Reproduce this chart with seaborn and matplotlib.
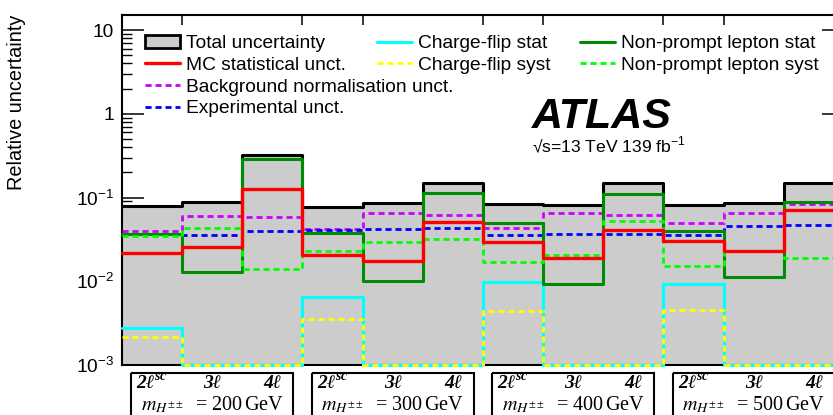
import numpy as np
import pandas as pd
import matplotlib
matplotlib.use("Agg")
import matplotlib.pyplot as plt
import matplotlib.transforms as mtransforms
from matplotlib.patches import Patch, Rectangle
from matplotlib.lines import Line2D
import seaborn as sns

# --- data (relative uncertainty per bin) ---
masses = [200, 300, 400, 500]
channels = ["2ℓ", "3ℓ", "4ℓ"]

total = [0.0787, 0.0879, 0.321, 0.0774, 0.0855, 0.150, 0.0841, 0.0809, 0.149, 0.0825, 0.0871, 0.150]
mc_stat = [0.0215, 0.0257, 0.125, 0.0206, 0.0175, 0.0506, 0.0295, 0.0188, 0.0414, 0.0306, 0.0230, 0.0705]
bkg_norm = [0.0403, 0.0597, 0.058, 0.0420, 0.0649, 0.0614, 0.0434, 0.0661, 0.0626, 0.0502, 0.0661, 0.083]
exp_unc = [0.0370, 0.0354, 0.040, 0.0414, 0.0417, 0.0429, 0.0354, 0.0367, 0.0370, 0.0360, 0.0453, 0.0466]
cf_stat = [0.0028, 0.001, 0.001, 0.00647, 0.001, 0.001, 0.00978, 0.001, 0.001, 0.00925, 0.001, 0.001]
cf_syst = [0.00218, 0.001, 0.001, 0.00356, 0.001, 0.001, 0.0044, 0.001, 0.001, 0.00456, 0.001, 0.001]
np_stat = [0.0367, 0.0129, 0.285, 0.0381, 0.01005, 0.114, 0.0502, 0.00934, 0.111, 0.0403, 0.0111, 0.088]
np_syst = [0.0351, 0.0434, 0.0142, 0.0230, 0.0292, 0.0323, 0.0171, 0.0204, 0.0526, 0.0153, 0.0228, 0.0191]

sns.set_theme(style="ticks")
plt.rcParams["font.family"] = ["Liberation Sans", "DejaVu Sans"]
plt.rcParams["mathtext.fontset"] = "stix"
plt.rcParams["text.color"] = "black"
plt.rcParams["axes.labelcolor"] = "black"
plt.rcParams["xtick.color"] = "black"
plt.rcParams["ytick.color"] = "black"

W, H = 833, 415
fig = plt.figure(figsize=(W / 100, H / 100), dpi=100)
# axes runs past the right edge of the image, as in the reference crop
ax = fig.add_axes([122 / W, 1 - 365 / H, 722 / W, 350 / H])
ax.set_yscale("log")

edges = np.arange(len(total) + 1)


def step_df(vals):
    return pd.DataFrame({"x": edges, "y": list(vals) + [vals[-1]]})


ax.fill_between(edges, list(total) + [total[-1]], 1e-5, step="post",
                color="#cccccc", lw=0, zorder=1)

dash = (0, (2.2, 1.4))
series = [
    (total, "black", "-", 2.2),
    (bkg_norm, "#cc00ff", dash, 2.0),
    (exp_unc, "#0000ff", dash, 2.0),
    (cf_stat, "#00ffff", "-", 2.2),
    (cf_syst, "#ffff00", dash, 2.0),
    (np_stat, "#008c00", "-", 2.2),
    (np_syst, "#00ff00", dash, 2.0),
    (mc_stat, "#ff0000", "-", 2.4),
]
for vals, col, ls, lw in series:
    sns.lineplot(data=step_df(vals), x="x", y="y", ax=ax, drawstyle="steps-post",
                 color=col, linestyle=ls, lw=lw, errorbar=None,
                 clip_on=False, zorder=3)

ax.set_xlim(0, len(total))
ax.set_ylim(1e-3, 10 ** (1 + 15 / 83.5))
ax.set_xlabel("")
ax.set_ylabel("")

ax.set_yticks([1e-3, 1e-2, 1e-1, 1, 10])
ax.set_yticklabels([r"$\mathdefault{10^{-3}}$", r"$\mathdefault{10^{-2}}$",
                    r"$\mathdefault{10^{-1}}$", "1", "10"])
ax.tick_params(axis="y", which="major", direction="in", length=15.5, width=1.1,
               labelsize=13.8, right=True, pad=6)
ax.tick_params(axis="y", which="minor", direction="in", length=7.5, width=1.0,
               right=True)
ax.set_xticks([2, 5, 8, 11])
ax.set_xticklabels([])
ax.tick_params(axis="x", which="major", direction="in", length=6.5, width=1.1)
ax.set_xticks(np.arange(1, 12), minor=True)
ax.tick_params(axis="x", which="minor", direction="in", length=7, width=1.1,
               bottom=False, top=True)
for sp in ax.spines.values():
    sp.set_linewidth(1.5)
    sp.set_color("black")

fig.text(17 / W, 1 - 15 / H, "Relative uncertainty", rotation=90, ha="center",
         va="top", fontsize=14.3)

# legends (three blocks, placed like the reference)
fs = 13.8
leg_kw = dict(loc="upper left", frameon=False, fontsize=fs, handlelength=1.85,
              handletextpad=0.3, labelspacing=0.22, borderpad=0, borderaxespad=0,
              handleheight=0.7)
h1 = [Patch(facecolor="#cccccc", edgecolor="black", linewidth=2),
      Line2D([], [], color="#ff0000", lw=2.4),
      Line2D([], [], color="#cc00ff", lw=2.0, linestyle=dash),
      Line2D([], [], color="#0000ff", lw=2.0, linestyle=dash)]
l1 = ["Total uncertainty", "MC statistical unct.",
      "Background normalisation unct.", "Experimental unct."]
h2 = [Line2D([], [], color="#00ffff", lw=2.2),
      Line2D([], [], color="#ffff00", lw=2.0, linestyle=dash)]
l2 = ["Charge-flip stat", "Charge-flip syst"]
h3 = [Line2D([], [], color="#008c00", lw=2.2),
      Line2D([], [], color="#00ff00", lw=2.0, linestyle=dash)]
l3 = ["Non-prompt lepton stat", "Non-prompt lepton syst"]
top_y = 1 - 35 / H
fig.legend(h1, l1, bbox_to_anchor=(145 / W, top_y), **leg_kw)
fig.legend(h2, l2, bbox_to_anchor=(377 / W, top_y), **leg_kw)
fig.legend(h3, l3, bbox_to_anchor=(580 / W, top_y), **leg_kw)

fig.text(532 / W, 1 - 128 / H, "ATLAS", fontsize=31, fontweight="bold",
         fontstyle="italic", va="baseline")
fig.text(532 / W, 1 - 153 / H, "√s=13 TeV 139 fb$^{\\mathdefault{-1}}$",
         fontsize=12.6, va="baseline")

# channel / mass boxes under the axis
trans = mtransforms.blended_transform_factory(ax.transData, ax.transAxes)
serif = ["Liberation Serif", "DejaVu Serif"]
for i, m in enumerate(masses):
    x0 = 3 * i
    ax.add_patch(Rectangle((x0 + 0.15, -0.023), 2.7, -0.3, transform=trans,
                           fill=False, lw=1.5, edgecolor="black", clip_on=False))
    for j, ch in enumerate(channels):
        lab = ch + (r"$^{\mathdefault{sc}}$" if j == 0 else "")
        ax.text(x0 + j + 0.5, -0.066, lab, transform=trans, ha="center",
                va="baseline", fontsize=14, fontweight="bold", fontstyle="italic",
                family=serif, clip_on=False)
    ax.text(x0 + 1.5, -0.129, r"$m_{H^{\pm\pm}}$  = " + f"{m}" + r"$\,$GeV",
            transform=trans, ha="center", va="baseline", fontsize=14.5,
            family=serif, clip_on=False)

fig.savefig("out.png", dpi=100)
